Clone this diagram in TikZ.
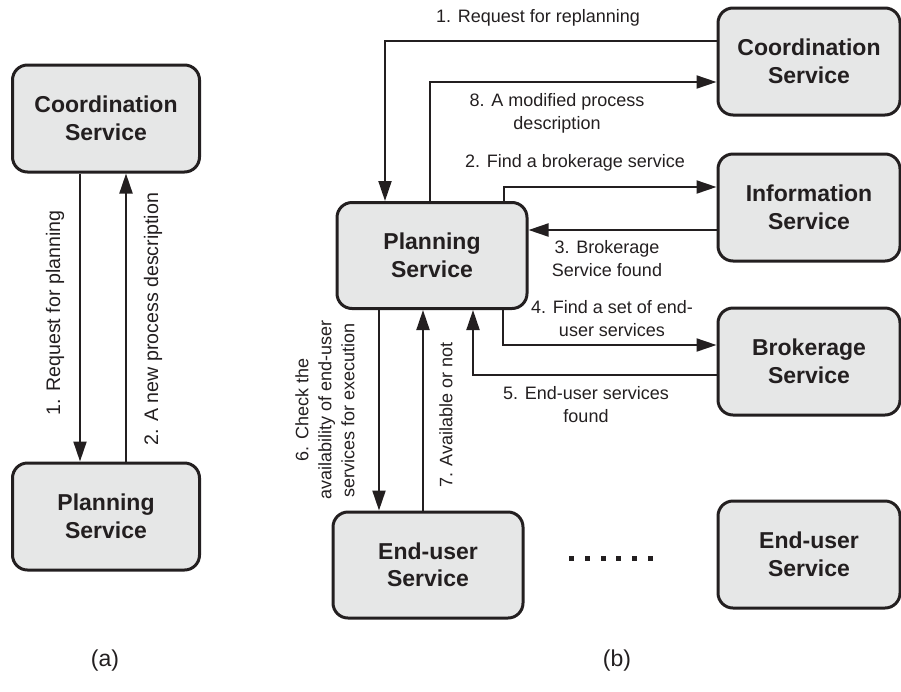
\documentclass[tikz,border=0pt]{standalone}
\usepackage{fontspec}
\setmainfont{Liberation Sans}
\usetikzlibrary{arrows.meta}
\definecolor{ink}{HTML}{231F20}
\definecolor{boxfill}{HTML}{E6E7E7}
\tikzset{
  svc/.style={draw=ink, fill=boxfill, line width=3pt, rounded corners=15pt,
    inner sep=0pt, align=center, text=ink,
    font=\fontsize{23}{27.5}\selectfont\bfseries},
  svcA/.style={svc, minimum width=187pt, minimum height=107pt},
  svcB/.style={svc, minimum width=182pt, minimum height=107pt},
  svcC/.style={svc, minimum width=190pt, minimum height=106pt},
  flow/.style={draw=ink, line width=2pt,
    -{Triangle[length=20pt,width=13pt]}},
  lbl/.style={text=ink, align=center, inner sep=0pt,
    font=\fontsize{18}{23}\selectfont},
  lblA/.style={text=ink, align=center, inner sep=0pt,
    font=\fontsize{19.6}{24}\selectfont},
  subcap/.style={text=ink, inner sep=0pt, font=\fontsize{23}{27}\selectfont},
  dot/.style={fill=ink, minimum size=5pt, inner sep=0pt}
}
\begin{document}
\begin{tikzpicture}[x=1pt, y=-1pt]
\useasboundingbox (0,0) rectangle (901,691);

% ---------- (a) ----------
\node[svcA] (ca) at (106,118.5) {Coordination\\Service};
\node[svcA] (pa) at (106,516.5) {Planning\\Service};
\coordinate (adn) at (80,0);
\coordinate (aup) at (126,0);
\draw[flow] (ca.south -| adn) -- (pa.north -| adn);
\draw[flow] (pa.north -| aup) -- (ca.south -| aup);
\node[lblA, rotate=90] (la1) at (55,313) {1. Request for planning};
\node[lblA, rotate=90] (la2) at (153,319) {2. A new process description};
\node[subcap] (capa) at (105,661) {(a)};

% ---------- (b) ----------
\node[svcB] (cb) at (809,61.5) {Coordination\\Service};
\node[svcB] (ib) at (809,207.5) {Information\\Service};
\node[svcB] (bb) at (809,361.5) {Brokerage\\Service};
\node[svcB] (eb) at (809,554.5) {End-user\\Service};
\node[svcC] (pb) at (432,255.5) {Planning\\Service};
\node[svcC] (ub) at (428,565) {End-user\\Service};

% bend points of the connectors
\coordinate (b1) at (385,41);
\coordinate (b8) at (430,82);
\coordinate (b2) at (504,187);
\coordinate (b3) at (0,230);
\coordinate (b4) at (503,345);
\coordinate (b5) at (473,375);
\coordinate (b6) at (379,0);
\coordinate (b7) at (423,0);

\draw[flow] (cb.west |- b1) -| (b1 |- pb.north);
\draw[flow] (b8 |- pb.north) |- (cb.west |- b8);
\draw[flow] (b2 |- pb.north) |- (ib.west |- b2);
\draw[flow] (ib.west |- b3) -- (pb.east |- b3);
\draw[flow] (b4 |- pb.south) |- (bb.west |- b4);
\draw[flow] (bb.west |- b5) -| (b5 |- pb.south);
\draw[flow] (pb.south -| b6) -- (ub.north -| b6);
\draw[flow] (ub.north -| b7) -- (pb.south -| b7);

\node[lbl] (l1) at (538,18) {1. Request for replanning};
\node[lbl] (l8) at (557,113.5) {8. A modified process\\description};
\node[lbl] (l2) at (575,163) {2. Find a brokerage service};
\node[lbl] (l3) at (607,258.5) {3. Brokerage\\Service found};
\node[lbl] (l4) at (612,319) {4. Find a set of end-\\user services};
\node[lbl] (l5) at (586,405) {5. End-user services\\found};
\node[lbl, rotate=90] (l6) at (325,410) {6. Check the\\availability of end-user\\services for execution};
\node[lbl, rotate=90] (l7) at (446,415) {7. Available or not};

\foreach \i/\x in {1/571,2/587,3/603,4/618,5/634,6/650}
  \node[dot] (d\i) at (\x,558) {};

\node[subcap] (capb) at (617,661) {(b)};
\end{tikzpicture}
\end{document}
